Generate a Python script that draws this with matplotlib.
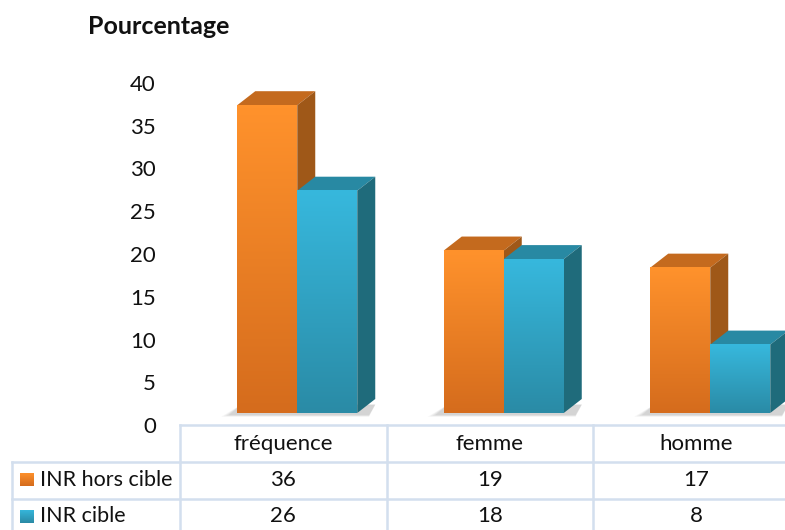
import numpy as np
import matplotlib
matplotlib.use("Agg")
import matplotlib.pyplot as plt
from matplotlib.patches import Polygon, Rectangle
from matplotlib.lines import Line2D
from matplotlib.colors import LinearSegmentedColormap

# données
categories = ["fréquence", "femme", "homme"]
series_names = ["INR hors cible", "INR cible"]
hors_cible = [36, 19, 17]
cible = [26, 18, 8]
yticks = [0, 5, 10, 15, 20, 25, 30, 35, 40]

plt.rcParams["font.family"] = ["Lato", "DejaVu Sans"]

W, H = 785, 530
fig = plt.figure(figsize=(W / 100, H / 100), dpi=100)
fig.patch.set_facecolor("white")


def fx(px):
    return px / W


def fy(py):
    return 1 - py / H


# géométrie (pixels)
COL_PX = 206.5      # largeur d'une colonne du tableau
TABLE_X0 = 180      # bord gauche du tableau de données
PX_UNIT = 342 / 40  # pixels par unité de valeur
BASE_PY = 413       # base des faces avant
AX_TOP = 60

ylo = -(425 - BASE_PY) / PX_UNIT
yhi = (BASE_PY - AX_TOP) / PX_UNIT
ax = fig.add_axes([fx(TABLE_X0), fy(425), fx(W - TABLE_X0), (425 - AX_TOP) / H])
ax.axis("off")

# axe des valeurs (étiquettes seulement)
axl = fig.add_axes([fx(160), fy(425), fx(10), (425 - AX_TOP) / H])
axl.set_ylim(0, (425 - AX_TOP) / PX_UNIT)
axl.set_yticks(yticks)
axl.set_yticklabels([str(v) for v in yticks], fontsize=16, color="#111111")
axl.tick_params(axis="y", length=0, pad=3)
axl.set_xticks([])
for s in axl.spines.values():
    s.set_visible(False)
axl.patch.set_alpha(0)

# barres 3D
bw = 60 / COL_PX
shift = 14 / COL_PX
dx = 18 / COL_PX
dy = 14 / PX_UNIT

styles = [
    dict(top="#ff922c", bottom="#d56c1d", lid="#c46a1e", side="#9f5818"),
    dict(top="#37b8dd", bottom="#2a8ba6", lid="#2889a3", side="#1f6b7b"),
]
grad = np.linspace(0, 1, 100).reshape(-1, 1)

for i in range(len(categories)):
    x_left = i + shift - bw
    x_right = i + shift + bw + dx
    # ombre portée douce
    for k, a in enumerate([0.06, 0.07, 0.09, 0.10]):
        off = 0.012 * (4 - k)
        ax.add_patch(Polygon([(x_left - 0.03 - off, -0.2 - off * 5),
                              (x_right - 0.03, -0.2 - off * 5),
                              (x_right, dy * 0.6),
                              (x_left + 0.02, dy * 0.6)],
                             closed=True, facecolor="#707070", edgecolor="none",
                             alpha=a, zorder=1))
    for j, vals in enumerate([hors_cible, cible]):
        st = styles[j]
        h = vals[i]
        x0 = i + shift - bw + j * bw
        x1 = x0 + bw
        z = 2 + j * 3
        ax.add_patch(Polygon([(x0, h), (x1, h), (x1 + dx, h + dy), (x0 + dx, h + dy)],
                             closed=True, facecolor=st["lid"], edgecolor="none", zorder=z))
        ax.add_patch(Polygon([(x1, 0), (x1 + dx, dy), (x1 + dx, h + dy), (x1, h)],
                             closed=True, facecolor=st["side"], edgecolor="none", zorder=z))
        cmap = LinearSegmentedColormap.from_list("f%d" % j, [st["top"], st["bottom"]])
        ax.imshow(grad, cmap=cmap, extent=[x0, x1, 0, h], aspect="auto",
                  origin="upper", zorder=z + 1, interpolation="bicubic")
ax.set_xlim(-0.5, -0.5 + (W - TABLE_X0) / COL_PX)
ax.set_ylim(ylo, yhi)

# tableau de données
line_c = "#d3dfee"
lw = 1.8
rows_py = [425, 462, 499, 536]


def hline(x0, x1, py):
    fig.add_artist(Line2D([fx(x0), fx(x1)], [fy(py), fy(py)], color=line_c, lw=lw))


def vline(px, y0, y1):
    fig.add_artist(Line2D([fx(px), fx(px)], [fy(y0), fy(y1)], color=line_c, lw=lw))


hline(TABLE_X0, W, rows_py[0])
hline(12, W, rows_py[1])
hline(12, W, rows_py[2])
for k in range(len(categories)):
    vline(TABLE_X0 + COL_PX * k, rows_py[0], H)
vline(12, rows_py[1], H)

for i, cat in enumerate(categories):
    cx = TABLE_X0 + COL_PX * (i + 0.5)
    fig.text(fx(cx), fy((rows_py[0] + rows_py[1]) / 2 + 1), cat, ha="center", va="center",
             fontsize=16, color="#111111")
    for r, vals in enumerate([hors_cible, cible]):
        fig.text(fx(cx), fy((rows_py[r + 1] + rows_py[r + 2]) / 2 - 1), str(vals[i]),
                 ha="center", va="center", fontsize=16, color="#111111")

for r, name in enumerate(series_names):
    cy = (rows_py[r + 1] + rows_py[r + 2]) / 2 - 1
    st = styles[r]
    key = np.linspace(0, 1, 20).reshape(-1, 1)
    kax = fig.add_axes([fx(20), fy(cy + 7), 14 / W, 14 / H])
    kax.imshow(key, cmap=LinearSegmentedColormap.from_list("k%d" % r, [st["top"], st["bottom"]]),
               aspect="auto", origin="upper")
    kax.axis("off")
    fig.text(fx(40), fy(cy), name, ha="left", va="center", fontsize=15.5, color="#111111")

fig.text(fx(88), fy(26), "Pourcentage", ha="left", va="center", fontsize=18,
         fontweight="bold", color="#111111")

fig.savefig("out.png", dpi=100, facecolor="white")
